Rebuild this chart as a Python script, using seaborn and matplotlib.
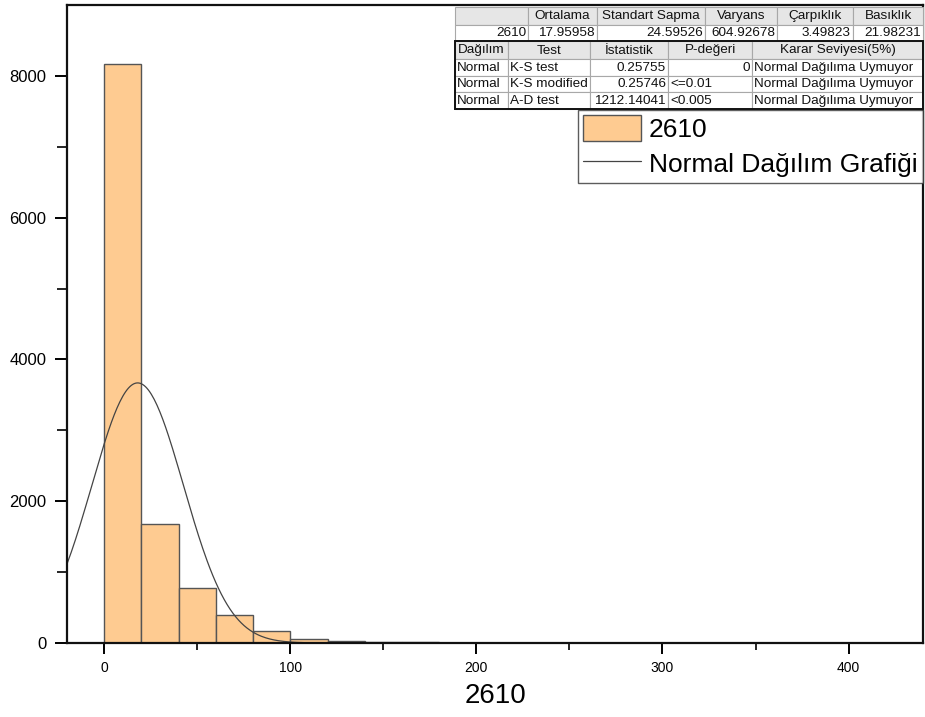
import numpy as np
import matplotlib
matplotlib.use("Agg")
import matplotlib.pyplot as plt
from matplotlib.patches import Rectangle
from matplotlib.lines import Line2D
import seaborn as sns

# ---- data -------------------------------------------------------------
bin_edges = [0, 20, 40, 60, 80, 100, 120, 140, 160, 180, 200, 220]
bin_counts = [8170, 1679, 780, 390, 172, 58, 30, 15, 8, 5, 3]
series_name = "2610"

stat_headers = ["", "Ortalama", "Standart Sapma", "Varyans", "Çarpıklık", "Basıklık"]
stat_values = ["2610", "17.95958", "24.59526", "604.92678", "3.49823", "21.98231"]
mean_value = 17.95958
sd_value = 24.59526

test_headers = ["Dağılım", "Test", "İstatistik", "P-değeri", "Karar Seviyesi(5%)"]
test_dist = ["Normal", "Normal", "Normal"]
test_names = ["K-S test", "K-S modified", "A-D test"]
test_stats = ["0.25755", "0.25746", "1212.14041"]
test_pvals = ["0", "<=0.01", "<0.005"]
test_decision = ["Normal Dağılıma Uymuyor"] * 3

x_ticks = [0, 100, 200, 300, 400]
y_ticks = [0, 2000, 4000, 6000, 8000]

# ---- style ------------------------------------------------------------
sns.set_style("white")
plt.rcParams["font.family"] = ["Liberation Sans", "DejaVu Sans"]
plt.rcParams["text.color"] = "black"
plt.rcParams["xtick.color"] = "black"
plt.rcParams["ytick.color"] = "black"
plt.rcParams["axes.labelcolor"] = "black"

W, H = 925, 717
fig = plt.figure(figsize=(W / 100, H / 100), dpi=100)
L, R, T, B = 67, 923, 5, 643
ax = fig.add_axes([L / W, 1 - B / H, (R - L) / W, (B - T) / H])

fill = "#FECB91"
edge = "#555555"

centers = [(a + b) / 2 for a, b in zip(bin_edges[:-1], bin_edges[1:])]
sns.histplot(x=centers, weights=bin_counts, bins=bin_edges, stat="count",
             color=fill, edgecolor=edge, linewidth=1.0, alpha=1.0, ax=ax)

# fitted normal curve scaled to counts per bin
n_total = sum(bin_counts)
bw = bin_edges[1] - bin_edges[0]
xs = np.linspace(-20, 440, 600)
ys = n_total * bw / (sd_value * np.sqrt(2 * np.pi)) * np.exp(-0.5 * ((xs - mean_value) / sd_value) ** 2)
sns.lineplot(x=xs, y=ys, color="#444444", linewidth=0.9, ax=ax)

ax.set_xlim(-20, 440)
ax.set_ylim(0, 9000)
ax.set_xticks(x_ticks)
ax.set_xticks([50, 150, 250, 350], minor=True)
ax.set_yticks(y_ticks)
ax.set_yticks([1000, 3000, 5000, 7000], minor=True)
ax.tick_params(axis="x", which="major", direction="out", length=8, width=1.4,
               labelsize=10, pad=5, bottom=True)
ax.tick_params(axis="x", which="minor", direction="out", length=5, width=1.2, bottom=True)
ax.tick_params(axis="y", which="major", direction="out", length=9, width=1.4,
               labelsize=12, pad=6, left=True)
ax.tick_params(axis="y", which="minor", direction="out", length=7, width=1.2, left=True)
for s in ax.spines.values():
    s.set_visible(True)
    s.set_color("#111111")
    s.set_linewidth(1.6)
ax.set_ylabel("")
ax.set_xlabel(series_name, fontsize=20, labelpad=6)

# legend
handles = [Rectangle((0, 0), 1, 1, facecolor=fill, edgecolor=edge, linewidth=1.0),
           Line2D([0], [0], color="#444444", linewidth=0.9)]
leg = ax.legend(handles, [series_name, "Normal Dağılım Grafiği"], loc="upper right",
                bbox_to_anchor=(R / W, 1 - 110 / H), bbox_transform=fig.transFigure,
                fontsize=19, frameon=True, fancybox=False, borderaxespad=0,
                handlelength=2.2, handleheight=1.15, handletextpad=0.3,
                labelspacing=0.3, borderpad=0.2)
leg.get_frame().set_edgecolor("#333333")
leg.get_frame().set_linewidth(1.0)

# ---- statistics tables -------------------------------------------------
ov = fig.add_axes([0, 0, 1, 1])
ov.set_xlim(0, W)
ov.set_ylim(H, 0)
ov.axis("off")

header_bg = "#E6E6E6"
grid_c = "#A8A8A8"
tfs = 9.7


def cell(x0, x1, y0, y1, text, align, bg):
    ov.add_patch(Rectangle((x0, y0), x1 - x0, y1 - y0, facecolor=bg,
                           edgecolor=grid_c, linewidth=0.8))
    if align == "center":
        tx = (x0 + x1) / 2
    elif align == "right":
        tx = x1 - 2
    else:
        tx = x0 + 2
    ov.text(tx, (y0 + y1) / 2 + 0.5, text, ha=align, va="center", fontsize=tfs, color="#111111")


c1 = [455, 528, 597, 705, 777, 853, 923]
r1 = [7, 24.5, 41]
for i, h in enumerate(stat_headers):
    cell(c1[i], c1[i + 1], r1[0], r1[1], h, "center", header_bg)
for i, v in enumerate(stat_values):
    cell(c1[i], c1[i + 1], r1[1], r1[2], v, "right", "white")

c2 = [455, 508, 590, 668, 752, 923]
r2 = [41, 59, 75.5, 92, 108.5]
for i, h in enumerate(test_headers):
    cell(c2[i], c2[i + 1], r2[0], r2[1], h, "center", header_bg)
for j in range(3):
    y0, y1 = r2[j + 1], r2[j + 2]
    cell(c2[0], c2[1], y0, y1, test_dist[j], "left", "white")
    cell(c2[1], c2[2], y0, y1, test_names[j], "left", "white")
    cell(c2[2], c2[3], y0, y1, test_stats[j], "right", "white")
    cell(c2[3], c2[4], y0, y1, test_pvals[j], "right" if test_pvals[j] == "0" else "left", "white")
    cell(c2[4], c2[5], y0, y1, test_decision[j], "left", "white")

# dark outline around the test table
ov.add_patch(Rectangle((c2[0], r2[0]), c2[-1] - c2[0], r2[-1] - r2[0], facecolor="none",
                       edgecolor="#111111", linewidth=1.4))

fig.savefig("out.png", dpi=100)
